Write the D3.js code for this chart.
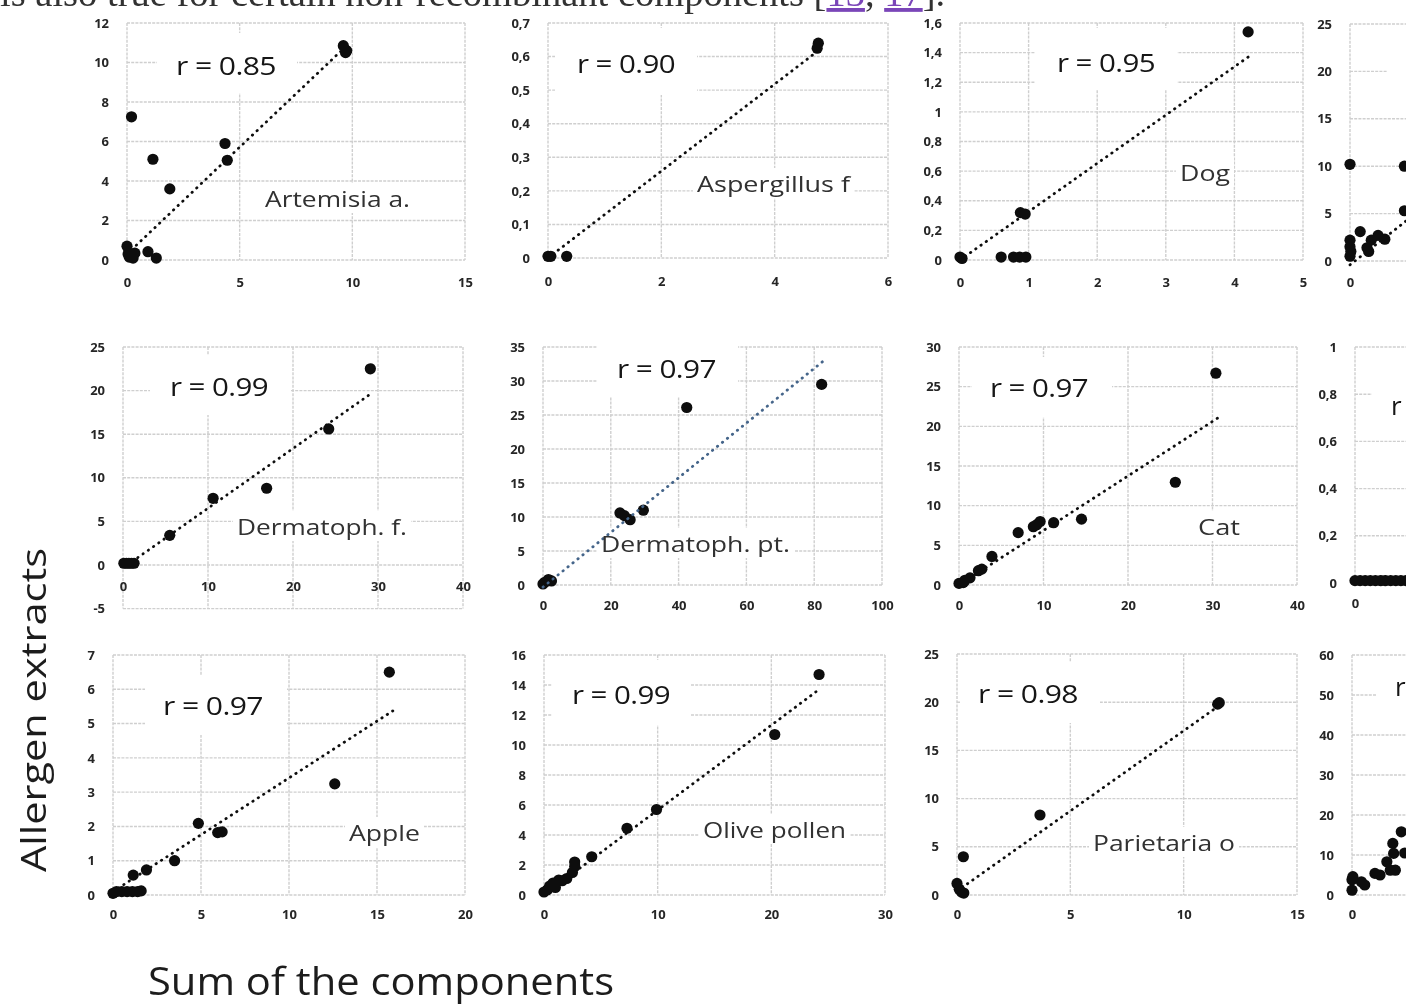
<!DOCTYPE html>
<html><head><meta charset="utf-8">
<script src="https://cdn.jsdelivr.net/npm/d3@7"></script>
<style>html,body{margin:0;padding:0;background:#fff;overflow:hidden}</style>
</head><body><svg id="c" width="1406" height="1005" xmlns="http://www.w3.org/2000/svg"></svg>
<script>
// ---------------- DATA ----------------
const speciesNames = ["Artemisia a.", "Aspergillus f", "Dog", "", "Dermatoph. f.", "Dermatoph. pt.", "Cat", "", "Apple", "Olive pollen", "Parietaria o", ""];
const rLabels = ["r = 0.85", "r = 0.90", "r = 0.95", "", "r = 0.99", "r = 0.97", "r = 0.97", "r", "r = 0.97", "r = 0.99", "r = 0.98", "r"];

const xDomains = [[0,15],[0,6],[0,5],[0,40],[0,40],[0,100],[0,40],[0,40],[0,20],[0,30],[0,15],[0,40]];
const yDomains = [[0,12],[0,0.7],[0,1.6],[0,25],[-5,25],[0,35],[0,30],[0,1],[0,7],[0,16],[0,25],[0,60]];
const xTickLists = [
  [0,5,10,15],[0,2,4,6],[0,1,2,3,4,5],[0,10,20,30,40],
  [0,10,20,30,40],[0,20,40,60,80,100],[0,10,20,30,40],[0,10,20,30,40],
  [0,5,10,15,20],[0,10,20,30],[0,5,10,15],[0,10,20,30,40]
];
const yTickLists = [
  [0,2,4,6,8,10,12],[0,0.1,0.2,0.3,0.4,0.5,0.6,0.7],[0,0.2,0.4,0.6,0.8,1,1.2,1.4,1.6],[0,5,10,15,20,25],
  [-5,0,5,10,15,20,25],[0,5,10,15,20,25,30,35],[0,5,10,15,20,25,30],[0,0.2,0.4,0.6,0.8,1],
  [0,1,2,3,4,5,6,7],[0,2,4,6,8,10,12,14,16],[0,5,10,15,20,25],[0,10,20,30,40,50,60]
];
const commaDecimals = [false,true,true,false,false,false,false,true,false,false,false,false];

const artemisiaPoints = [[9.7,10.5],[9.75,10.6],[9.6,10.85],[0.2,7.25],[1.15,5.1],[1.9,3.6],[4.35,5.9],[4.45,5.05],[0,0.7],[0.05,0.3],[0.27,0.1],[0.93,0.42],[1.3,0.1],[0.35,0.35],[0.1,0.15]];
const aspergillusPoints = [[0,0.005],[0.05,0.005],[0.33,0.005],[4.77,0.64],[4.75,0.625]];
const dogPoints = [[0,0.02],[0.03,0.01],[0.6,0.02],[0.78,0.02],[0.87,0.02],[0.96,0.02],[0.88,0.32],[0.95,0.31],[4.2,1.54]];
const panel4Points = [[0,10.2],[6.4,10.0],[6.4,5.3],[0,0.5],[0,1.5],[0,2.2],[0.1,1.0],[1.2,3.1],[2.0,1.4],[2.5,2.2],[3.3,2.7],[4.1,2.3],[2.2,1.0]];
const dermFPoints = [[0.1,0.2],[0.4,0.2],[0.7,0.2],[1.0,0.2],[1.3,0.2],[5.5,3.4],[10.6,7.65],[16.9,8.8],[24.2,15.6],[29.1,22.5]];
const dermPtPoints = [[0,0.15],[0.5,0.4],[1.6,0.8],[2.5,0.6],[22.7,10.6],[24,10.2],[25.7,9.6],[29.6,11.0],[42.4,26.1],[82.2,29.5]];
const catPoints = [[0,0.2],[0.5,0.3],[0.7,0.6],[1.3,0.9],[2.3,1.8],[2.7,2.0],[3.9,3.6],[7.0,6.6],[8.8,7.35],[9.2,7.6],[9.6,8.0],[11.2,7.85],[14.5,8.3],[25.6,12.95],[30.4,26.7]];
const panel8Points = [[0,0.01],[0.6,0.01],[1.2,0.01],[1.8,0.01],[2.4,0.01],[3.0,0.01],[3.6,0.01],[4.2,0.01],[4.8,0.01],[5.4,0.01],[6.0,0.01],[6.6,0.01]];
const applePoints = [[0,0.05],[0.2,0.1],[0.5,0.1],[0.8,0.1],[1.1,0.1],[1.4,0.1],[1.6,0.12],[1.15,0.58],[1.9,0.73],[3.5,1.0],[4.85,2.09],[5.95,1.82],[6.2,1.84],[12.6,3.24],[15.7,6.5]];
const olivePoints = [[0,0.2],[0.3,0.35],[0.5,0.6],[0.8,0.8],[1.0,0.5],[1.3,1.0],[1.6,0.95],[2.0,1.1],[2.5,1.5],[2.7,1.9],[2.7,2.2],[4.2,2.55],[7.3,4.45],[9.9,5.7],[20.3,10.7],[24.2,14.7]];
const parietariaPoints = [[0,1.2],[0.1,0.6],[0.2,0.3],[0.3,0.2],[0.28,3.97],[3.66,8.3],[11.5,19.8],[11.57,19.95]];
const panel12Points = [[0,1.2],[0,3.8],[0.1,4.6],[1.1,3.3],[1.5,2.5],[2.7,5.4],[3.3,5.0],[4.5,6.2],[4.1,8.3],[4.9,10.4],[5.1,6.2],[4.8,12.9],[5.8,15.8],[6.2,10.5]];
const allPoints = [artemisiaPoints, aspergillusPoints, dogPoints, panel4Points, dermFPoints, dermPtPoints, catPoints, panel8Points, applePoints, olivePoints, parietariaPoints, panel12Points];

// trend lines: [start, end] in data units
const trendLines = [
  [[0,0.3],[9.7,10.8]], [[0,0.0],[4.75,0.615]], [[0,0],[4.2,1.37]], [[0,-0.4],[12,8]],
  [[0.5,0.0],[29.1,19.6]], [[0,-0.3],[83.6,33.3]], [[0,0],[30.7,21.1]], null,
  [[0,0.1],[15.9,5.37]], [[0,0],[24.2,13.7]], [[0,0.4],[11.6,19.7]], null
];

const xTitle = "Sum of the components";
const yTitle = "Allergen extracts";
const paragraphText = ["is also true for certain non-recombinant components [", "13", ", ", "17", "]."];

// ---------------- LAYOUT (pixels) ----------------
const plotBoxes = [
  {l:127,r:465,t:23,b:260,xp:19},{l:548,r:888,t:23,b:258,xp:20},{l:960,r:1303,t:23,b:260,xp:19},{l:1350,r:1690,t:24,b:261,xp:18},
  {l:123,r:463,t:347,b:608.6,xp:18},{l:543,r:882,t:347,b:585,xp:17},{l:959,r:1297,t:347,b:585,xp:17},{l:1355,r:1695,t:347,b:583,xp:17},
  {l:113,r:465,t:655,b:895,xp:16},{l:544,r:885,t:655,b:895,xp:16},{l:957,r:1297,t:654,b:895,xp:16},{l:1352,r:1692,t:655,b:895,xp:16}
];
const rPos = [
  {x:176,y:65,w:100,bx:157,by:33,bw:140,bh:60},{x:577,y:63,w:98,bx:555,by:28,bw:142,bh:67},{x:1057,y:62,w:98,bx:1035,by:28,bw:142,bh:62},{x:0,y:0,w:0,bx:1387,by:36,bw:30,bh:62},
  {x:170,y:386,w:98,bx:150,by:355,bw:140,bh:60},{x:617,y:368,w:99,bx:597,by:337,bw:141,bh:60},{x:990,y:387,w:98,bx:972,by:357,bw:140,bh:60},{x:1391,y:405,w:0,bx:1372,by:375,bw:40,bh:60},
  {x:163,y:705,w:100,bx:145,by:675,bw:142,bh:60},{x:572,y:694,w:98,bx:552,by:660,bw:138,bh:65},{x:978,y:693,w:100,bx:961,by:662,bw:139,bh:61},{x:1395,y:686,w:0,bx:1377,by:656,bw:40,bh:60}
];
const speciesPos = [
  {x:265,y:198,w:145},{x:697,y:183,w:153},{x:1180,y:172,w:50},null,
  {x:237,y:526,w:170},{x:601,y:543,w:189},{x:1198,y:526,w:42},null,
  {x:349,y:832,w:71},{x:703,y:829,w:143},{x:1093,y:842,w:142},null
];
const trendColors = ["#111","#111","#111","#111","#111","#45658a","#111","#111","#111","#111","#111","#111"];

// ---------------- DRAW ----------------
const W = 1406, H = 1005;
const svg = d3.select("#c");
const defs = svg.append("defs");
defs.append("filter").attr("id","soft").attr("x","-5%").attr("y","-5%").attr("width","110%").attr("height","110%")
  .append("feGaussianBlur").attr("stdDeviation",0.45);

const root = svg.append("g").attr("filter","url(#soft)");
root.append("rect").attr("width",W).attr("height",H).attr("fill","#fff");

const tickFont = "'Noto Sans', 'DejaVu Sans', sans-serif";
const fmt = (v, comma) => {
  let s = String(+v.toFixed(2));
  return comma ? s.replace(".", ",") : s;
};

allPoints.forEach((pts, i) => {
  const B = plotBoxes[i];
  const x = d3.scaleLinear().domain(xDomains[i]).range([B.l, B.r]);
  const y = d3.scaleLinear().domain(yDomains[i]).range([B.b, B.t]);
  const g = root.append("g");

  g.append("g").selectAll("line").data(yTickLists[i]).join("line")
    .attr("x1", B.l).attr("x2", B.r).attr("y1", d => y(d)).attr("y2", d => y(d))
    .attr("stroke", "#cfcfcf").attr("stroke-width", 1.4).attr("stroke-dasharray", "3 1.2");
  g.append("g").selectAll("line").data(xTickLists[i]).join("line")
    .attr("x1", d => x(d)).attr("x2", d => x(d)).attr("y1", B.t).attr("y2", B.b)
    .attr("stroke", "#cfcfcf").attr("stroke-width", 1.4).attr("stroke-dasharray", "3 1.2");

  const ya = g.append("g").attr("transform", `translate(${B.l},0)`)
    .call(d3.axisLeft(y).tickValues(yTickLists[i]).tickSize(0).tickPadding(18).tickFormat(d => fmt(d, commaDecimals[i])));
  ya.select(".domain").remove();
  ya.selectAll("text").attr("font-family", tickFont).attr("font-weight", 700)
    .attr("font-size", 13).attr("fill", "#262626");

  const xa = g.append("g").attr("transform", `translate(0,${y(0)})`)
    .call(d3.axisBottom(x).tickValues(xTickLists[i].filter(v => x(v) < W - 4)).tickSize(0).tickPadding(B.xp - 1).tickFormat(d => fmt(d, false)));
  xa.select(".domain").remove();
  xa.selectAll("text").attr("font-family", tickFont).attr("font-weight", 700)
    .attr("font-size", 13).attr("fill", "#262626");

  const R = rPos[i];
  g.append("rect").attr("x", R.bx).attr("y", R.by).attr("width", R.bw).attr("height", R.bh).attr("fill", "#fff");

  const S = speciesPos[i];
  if (S) {
    g.append("rect").attr("x", S.x - 4).attr("y", S.y - 15).attr("width", S.w + 8).attr("height", 30).attr("fill", "#fff");
  }

  g.append("g").selectAll("circle").data(pts).join("circle")
    .attr("cx", d => x(d[0])).attr("cy", d => y(d[1])).attr("r", 5.6).attr("fill", "#0a0a0a");

  const T = trendLines[i];
  if (T) {
    g.append("path").datum(T)
      .attr("d", d3.line().x(d => x(d[0])).y(d => y(d[1])))
      .attr("fill", "none").attr("stroke", trendColors[i]).attr("stroke-width", 2.8)
      .attr("stroke-linecap", "round").attr("stroke-dasharray", "0.4 6");
  }

  if (rLabels[i]) {
    const t = g.append("text").attr("x", R.x).attr("y", R.y).attr("dominant-baseline", "central")
      .attr("font-family", "'Open Sans', sans-serif").attr("font-size", 26).attr("fill", "#141414")
      .attr("letter-spacing", -0.5).text(rLabels[i]);
    if (R.w) t.attr("textLength", R.w).attr("lengthAdjust", "spacingAndGlyphs");
  }
  if (S) {
    g.append("text").attr("x", S.x).attr("y", S.y).attr("dominant-baseline", "central")
      .attr("font-family", "'Open Sans', sans-serif").attr("font-size", 22).attr("fill", "#303030")
      .attr("textLength", S.w).attr("lengthAdjust", "spacingAndGlyphs").text(speciesNames[i]);
  }
});

root.append("text").attr("transform", "translate(46,710) rotate(-90)").attr("text-anchor", "middle")
  .attr("font-family", "'Open Sans', sans-serif").attr("font-size", 34).attr("fill", "#1e1e1e")
  .attr("textLength", 324).attr("lengthAdjust", "spacingAndGlyphs").text(yTitle);
root.append("text").attr("x", 148).attr("y", 995)
  .attr("font-family", "'Open Sans', sans-serif").attr("font-size", 38).attr("fill", "#1e1e1e")
  .attr("textLength", 466).attr("lengthAdjust", "spacingAndGlyphs").text(xTitle);

const para = root.append("text").attr("x", 0).attr("y", 6)
  .attr("font-family", "'Liberation Serif', 'DejaVu Serif', serif").attr("font-size", 38.5).attr("fill", "#333");
paragraphText.forEach((s, k) => {
  const ts = para.append("tspan").text(s);
  if (k === 1 || k === 3) ts.attr("fill", "#7a45b8").attr("text-decoration", "underline");
});
</script></body></html>
